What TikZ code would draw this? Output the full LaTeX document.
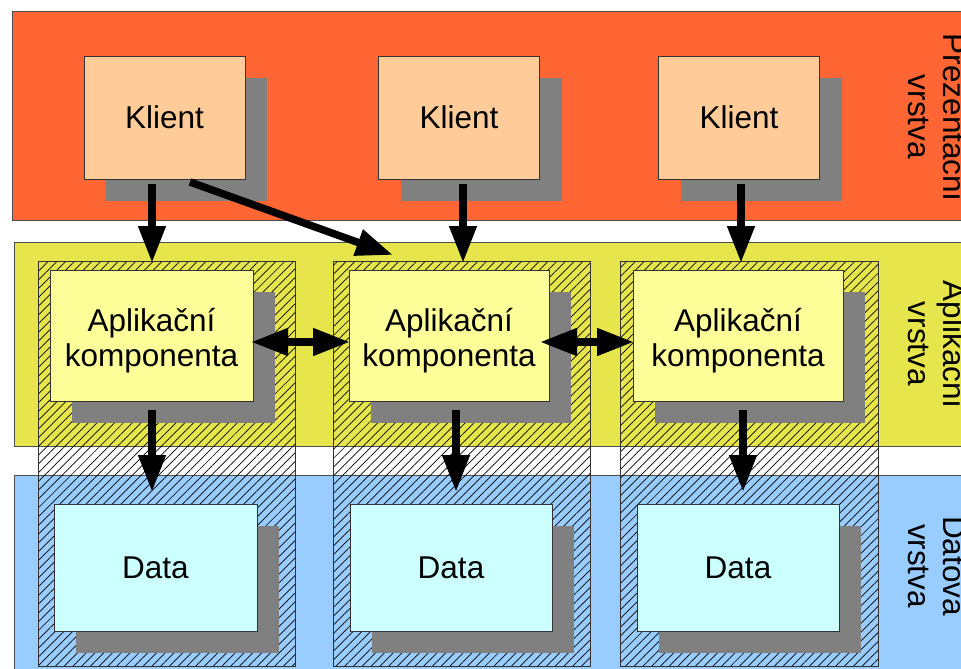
\documentclass[tikz,border=0pt]{standalone}
\usepackage{fontspec}
\setmainfont{Liberation Sans}
\usetikzlibrary{arrows.meta,patterns.meta,shadows}
\definecolor{orangeband}{HTML}{FF6633}
\definecolor{yellowband}{HTML}{E6E64C}
\definecolor{blueband}{HTML}{99CCFF}
\definecolor{klientfill}{HTML}{FFCC99}
\definecolor{appfill}{HTML}{FFFF99}
\definecolor{datafill}{HTML}{CCFFFF}
\definecolor{shadowgray}{HTML}{808080}
\begin{document}
\begin{tikzpicture}[x=1pt,y=-1pt,
  band/.style={draw=black!70,line width=1pt},
  hatchcol/.style={draw=black!80,line width=0.8pt,pattern={Lines[angle=45,distance=6.2pt,line width=0.7pt]},pattern color=black},
  box/.style={draw=black!80,line width=0.8pt,inner sep=0pt,outer sep=0pt,align=center,
    font=\fontsize{31.5}{35}\selectfont,
    general shadow={fill=shadowgray,shadow xshift=22pt,shadow yshift=-22pt}},
  kbox/.style={box,fill=klientfill,minimum width=161pt,minimum height=123pt},
  abox/.style={box,fill=appfill,minimum height=131pt},
  dbox/.style={box,fill=datafill,minimum height=127pt},
  lbl/.style={rotate=-90,align=center,inner sep=0pt,font=\fontsize{31.5}{35}\selectfont},
  arr/.style={line width=7.5pt,-{Triangle[length=37pt,width=26pt]}},
  dblarr/.style={line width=7.5pt,{Triangle[length=37pt,width=26pt]}-{Triangle[length=37pt,width=26pt]}}
]
\useasboundingbox (0,0) rectangle (961,669);
\clip (0,0) rectangle (961,669);
% layer bands
\path[band,fill=orangeband] (12,12) rectangle (980,220);
\path[band,fill=yellowband] (14,242) rectangle (980,446);
\path[band,fill=blueband] (14,475) rectangle (980,690);
% hatched columns
\path[hatchcol] (38,261) rectangle (295,666);
\path[hatchcol] (333,261) rectangle (590,666);
\path[hatchcol] (620,261) rectangle (878,666);
% clients
\node[kbox] (k1) at (164.5,117.5) {Klient};
\node[kbox] (k2) at (459,117.5) {Klient};
\node[kbox] (k3) at (739,117.5) {Klient};
% application components
\node[abox,minimum width=203pt] (a1) at (151.5,335.5) {\rule{0pt}{34pt}Aplikační\\komponenta};
\node[abox,minimum width=200pt] (a2) at (449,335.5) {\rule{0pt}{34pt}Aplikační\\komponenta};
\node[abox,minimum width=210pt] (a3) at (738,335.5) {\rule{0pt}{34pt}Aplikační\\komponenta};
% data
\node[dbox,minimum width=203pt] (d1) at (155.5,567.5) {Data};
\node[dbox,minimum width=202pt] (d2) at (451,567.5) {Data};
\node[dbox,minimum width=202pt] (d3) at (738,567.5) {Data};
% layer labels
\node[lbl] (lp) at (937,117) {Prezentacni\\vrstva};
\node[lbl] (la) at (937,344) {Aplikacni\\vrstva};
\node[lbl] (ld) at (937,566) {Datova\\vrstva};
% arrows
\draw[arr] ([shift={(-12.5,5)}]k1.south) -- ([shift={(0.5,-7)}]a1.north);
\draw[arr] ([shift={(25.5,3)}]k1.south) -- ([shift={(-56,-15)}]a2.north);
\draw[arr] ([shift={(4,5)}]k2.south) -- ([shift={(14,-7)}]a2.north);
\draw[arr] ([shift={(2,5)}]k3.south) -- ([shift={(3,-7)}]a3.north);
\draw[arr] ([shift={(0.5,9)}]a1.south) -- ([shift={(-3.5,-12)}]d1.north);
\draw[arr] ([shift={(7,9)}]a2.south) -- ([shift={(5,-12)}]d2.north);
\draw[arr] ([shift={(5,9)}]a3.south) -- ([shift={(5,-12)}]d3.north);
\draw[dblarr] ([shift={(-2,6.5)}]a1.east) -- ([shift={(1,6.5)}]a2.west);
\draw[dblarr] ([shift={(-9,6.5)}]a2.east) -- ([shift={(1,6.5)}]a3.west);
\end{tikzpicture}
\end{document}
